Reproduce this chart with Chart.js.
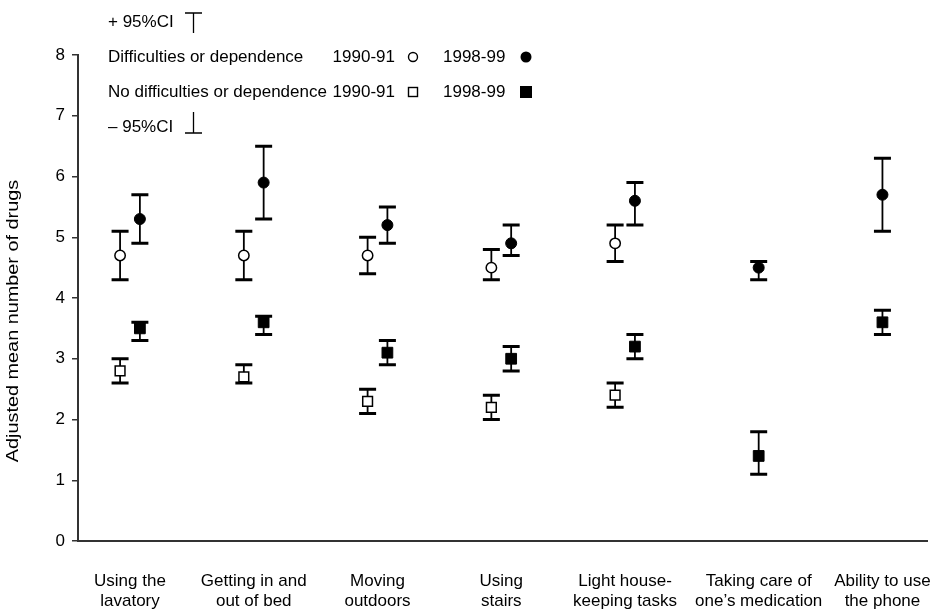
<!DOCTYPE html>
<html>
<head>
<meta charset="utf-8">
<script src="https://cdn.jsdelivr.net/npm/chart.js@4/dist/chart.umd.min.js"></script>
<style>
  html, body { margin: 0; padding: 0; background: #fff; }
  #wrap { width: 941px; height: 609px; position: relative; }
</style>
</head>
<body>
<div id="wrap"><canvas id="c"></canvas></div>
<script>
// Activities of daily living (two-line category labels)
const categories = [
  ["Using the", "lavatory"],
  ["Getting in and", "out of bed"],
  ["Moving", "outdoors"],
  ["Using", "stairs"],
  ["Light house-", "keeping tasks"],
  ["Taking care of", "one\u2019s medication"],
  ["Ability to use", "the phone"]
];

// Difficulties or dependence: adjusted mean and 95% CI
const dep1990     = [4.7, 4.7, 4.7, 4.5, 4.9, null, null];
const dep1990Low  = [4.3, 4.3, 4.4, 4.3, 4.6, null, null];
const dep1990High = [5.1, 5.1, 5.0, 4.8, 5.2, null, null];
const dep1998     = [5.3, 5.9, 5.2, 4.9, 5.6, 4.5, 5.7];
const dep1998Low  = [4.9, 5.3, 4.9, 4.7, 5.2, 4.3, 5.1];
const dep1998High = [5.7, 6.5, 5.5, 5.2, 5.9, 4.6, 6.3];

// No difficulties or dependence: adjusted mean and 95% CI
const noDep1990     = [2.8, 2.7, 2.3, 2.2, 2.4, null, null];
const noDep1990Low  = [2.6, 2.6, 2.1, 2.0, 2.2, null, null];
const noDep1990High = [3.0, 2.9, 2.5, 2.4, 2.6, null, null];
const noDep1998     = [3.5, 3.6, 3.1, 3.0, 3.2, 1.4, 3.6];
const noDep1998Low  = [3.3, 3.4, 2.9, 2.8, 3.0, 1.1, 3.4];
const noDep1998High = [3.6, 3.7, 3.3, 3.2, 3.4, 1.8, 3.8];

const yTicks = [0, 1, 2, 3, 4, 5, 6, 7, 8];
const yTitle = 'Adjusted mean number of drugs';

// Layout: 1998-99 marks sit on the category position, 1990-91 slightly to the left
const EARLIER_SHIFT = 0.16;
const FONT = '"Liberation Sans", Arial, Helvetica, sans-serif';

function points(vals, lo, hi, shift) {
  const out = [];
  vals.forEach((v, i) => {
    if (v !== null) out.push({ x: i + 1 - shift, y: v, lo: lo[i], hi: hi[i] });
  });
  return out;
}

// label sits under the middle of each category's marks
const labelPos = categories.map((_, i) =>
  (dep1990[i] !== null || noDep1990[i] !== null) ? i + 1 - EARLIER_SHIFT / 2 : i + 1);

const errorBars = {
  id: 'errorBars',
  beforeDatasetsDraw(chart) {
    const { ctx, scales: { x, y } } = chart;
    ctx.save();
    ctx.strokeStyle = '#000';
    ctx.lineCap = 'butt';
    chart.data.datasets.forEach(ds => {
      ds.data.forEach(p => {
        const px = x.getPixelForValue(p.x);
        const yl = y.getPixelForValue(p.lo);
        const yh = y.getPixelForValue(p.hi);
        ctx.lineWidth = 1.8;
        ctx.beginPath();
        ctx.moveTo(px, yl); ctx.lineTo(px, yh);
        ctx.stroke();
        ctx.lineWidth = 3;
        ctx.beginPath();
        ctx.moveTo(px - 8.5, yl); ctx.lineTo(px + 8.5, yl);
        ctx.moveTo(px - 8.5, yh); ctx.lineTo(px + 8.5, yh);
        ctx.stroke();
      });
    });
    ctx.restore();
  }
};

const keyPanel = {
  id: 'keyPanel',
  afterDraw(chart) {
    const ctx = chart.ctx;
    ctx.save();
    ctx.fillStyle = '#000';
    ctx.strokeStyle = '#000';
    ctx.font = '17px ' + FONT;
    ctx.textBaseline = 'middle';
    ctx.textAlign = 'left';
    const x0 = 108;
    const rows = [22, 57, 92, 127];

    // upper confidence limit symbol
    ctx.fillText('+ 95%CI', x0, rows[0]);
    ctx.lineWidth = 1.3;
    ctx.beginPath();
    ctx.moveTo(185, 13); ctx.lineTo(202, 13);
    ctx.moveTo(193.5, 13); ctx.lineTo(193.5, 33);
    ctx.stroke();

    ctx.fillText('Difficulties or dependence', x0, rows[1]);
    ctx.fillText('No difficulties or dependence', x0, rows[2]);
    ctx.textAlign = 'right';
    ctx.fillText('1990-91', 395, rows[1]);
    ctx.fillText('1990-91', 395, rows[2]);
    ctx.textAlign = 'left';
    ctx.fillText('1998-99', 443, rows[1]);
    ctx.fillText('1998-99', 443, rows[2]);

    // markers
    ctx.lineWidth = 1.4;
    ctx.beginPath();
    ctx.arc(413, rows[1], 4.5, 0, Math.PI * 2);
    ctx.fillStyle = '#fff'; ctx.fill(); ctx.stroke();
    ctx.fillStyle = '#000';
    ctx.beginPath();
    ctx.arc(526, rows[1], 5.5, 0, Math.PI * 2);
    ctx.fill();
    ctx.strokeRect(408.5, rows[2] - 4.5, 9, 9);
    ctx.fillRect(520, rows[2] - 6, 12, 12);

    // lower confidence limit symbol
    ctx.fillText('\u2013 95%CI', x0, rows[3]);
    ctx.lineWidth = 1.3;
    ctx.beginPath();
    ctx.moveTo(193.5, 112); ctx.lineTo(193.5, 133);
    ctx.moveTo(185, 133); ctx.lineTo(202, 133);
    ctx.stroke();

    // y-axis title, drawn tall and narrow
    ctx.translate(14, 321);
    ctx.rotate(-Math.PI / 2);
    ctx.scale(1.24, 1);
    ctx.textAlign = 'center';
    ctx.font = '16px ' + FONT;
    ctx.fillText(yTitle, 0, 0);
    ctx.restore();
  }
};

const openMark = { backgroundColor: '#fff', borderColor: '#000', borderWidth: 1.5 };
const fillMark = { backgroundColor: '#000', borderColor: '#000', borderWidth: 1 };

new Chart(document.getElementById('c'), {
  type: 'scatter',
  data: {
    datasets: [
      Object.assign({ label: 'Difficulties or dependence 1990-91',
        data: points(dep1990, dep1990Low, dep1990High, EARLIER_SHIFT),
        pointStyle: 'circle', pointRadius: 5.2 }, openMark),
      Object.assign({ label: 'Difficulties or dependence 1998-99',
        data: points(dep1998, dep1998Low, dep1998High, 0),
        pointStyle: 'circle', pointRadius: 5.5 }, fillMark),
      Object.assign({ label: 'No difficulties or dependence 1990-91',
        data: points(noDep1990, noDep1990Low, noDep1990High, EARLIER_SHIFT),
        pointStyle: 'rect', pointRadius: 6.9 }, openMark),
      Object.assign({ label: 'No difficulties or dependence 1998-99',
        data: points(noDep1998, noDep1998Low, noDep1998High, 0),
        pointStyle: 'rect', pointRadius: 7.6 }, fillMark)
    ]
  },
  options: {
    responsive: true,
    maintainAspectRatio: false,
    animation: false,
    events: [],
    layout: { padding: { top: 55, right: 14, left: 0, bottom: 0 } },
    plugins: { legend: { display: false }, tooltip: { enabled: false } },
    scales: {
      x: {
        type: 'linear',
        min: 0.5,
        max: 7.36,
        afterBuildTicks(scale) { scale.ticks = labelPos.map(v => ({ value: v })); },
        afterFit(scale) {
          scale.height = 68;
          scale.paddingLeft = 0;
          scale.paddingRight = 0;
        },
        ticks: {
          autoSkip: false,
          maxRotation: 0,
          padding: 30,
          color: '#000',
          font: { family: FONT, size: 17 },
          callback: (v, i) => categories[i]
        },
        grid: { display: false, drawTicks: false },
        border: { display: true, color: '#333', width: 2 }
      },
      y: {
        min: 0,
        max: 8,
        afterBuildTicks(scale) { scale.ticks = yTicks.map(v => ({ value: v })); },
        afterFit(scale) { scale.width = 78; },
        ticks: {
          padding: 7,
          color: '#000',
          font: { family: FONT, size: 17 }
        },
        grid: { display: true, drawOnChartArea: false, drawTicks: true, tickLength: 6, color: '#333', lineWidth: 1.5 },
        border: { display: true, color: '#333', width: 2 },
        title: { display: false }
      }
    }
  },
  plugins: [errorBars, keyPanel]
});
</script>
</body>
</html>
